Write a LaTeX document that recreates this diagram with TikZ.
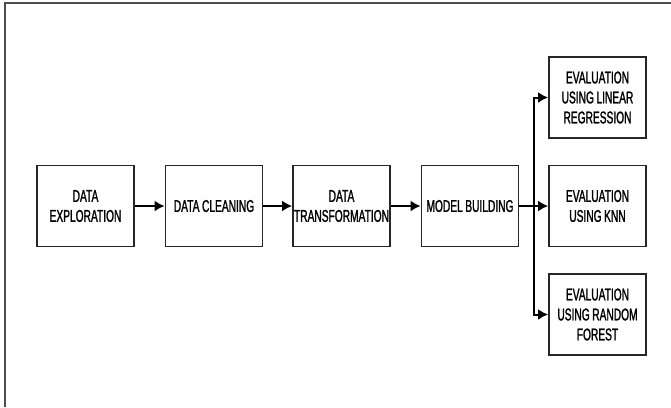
\documentclass[tikz,border=0pt]{standalone}
\usepackage{fontspec}
\setmainfont{Liberation Sans}[FakeStretch=0.6,FakeBold=1.3,WordSpace=0.9]
\usepackage{tikz}
\usetikzlibrary{positioning,arrows.meta,calc}
\tikzset{
    block/.style = {
        draw=black!85,
        shape=rectangle,
        minimum height=81pt,
        minimum width=97pt,
        inner sep=0pt,
        align=center,
        line width=1.8pt,
        font=\fontsize{17}{20}\selectfont
    },
    flow/.style = {
        draw,
        line width=2pt,
        ->
    },
    >={Latex[length=10pt,width=11pt]},
}
\begin{document}
\begin{tikzpicture}[x=1pt,y=-1pt]
    \useasboundingbox (0,0) rectangle (671,407);
    % frame
    \draw[line width=2.5pt, black!70] (5,407) -- (5,3) -- (671,3);

    \node[block] (expl) at (85.5,206) {DATA\\EXPLORATION};
    \node[block] (clean) at (214,206) {DATA CLEANING};
    \node[block] (trans) at (341.5,206) {DATA\\TRANSFORMATION};
    \node[block] (model) at (470,206) {MODEL BUILDING};
    \node[block] (lin) at (597.5,97.5) {EVALUATION\\USING LINEAR\\REGRESSION};
    \node[block] (knn) at (597.5,206) {EVALUATION\\USING KNN};
    \node[block] (forest) at (597.5,314.5) {EVALUATION\\USING RANDOM\\FOREST};

    \coordinate (split) at (534,206);

    \path[flow] (expl) -- (clean);
    \path[flow] (clean) -- (trans);
    \path[flow] (trans) -- (model);
    \path[flow] (model) -- (knn);
    \path[flow] (split) |- (lin);
    \path[flow] (split) |- (forest);
\end{tikzpicture}
\end{document}
